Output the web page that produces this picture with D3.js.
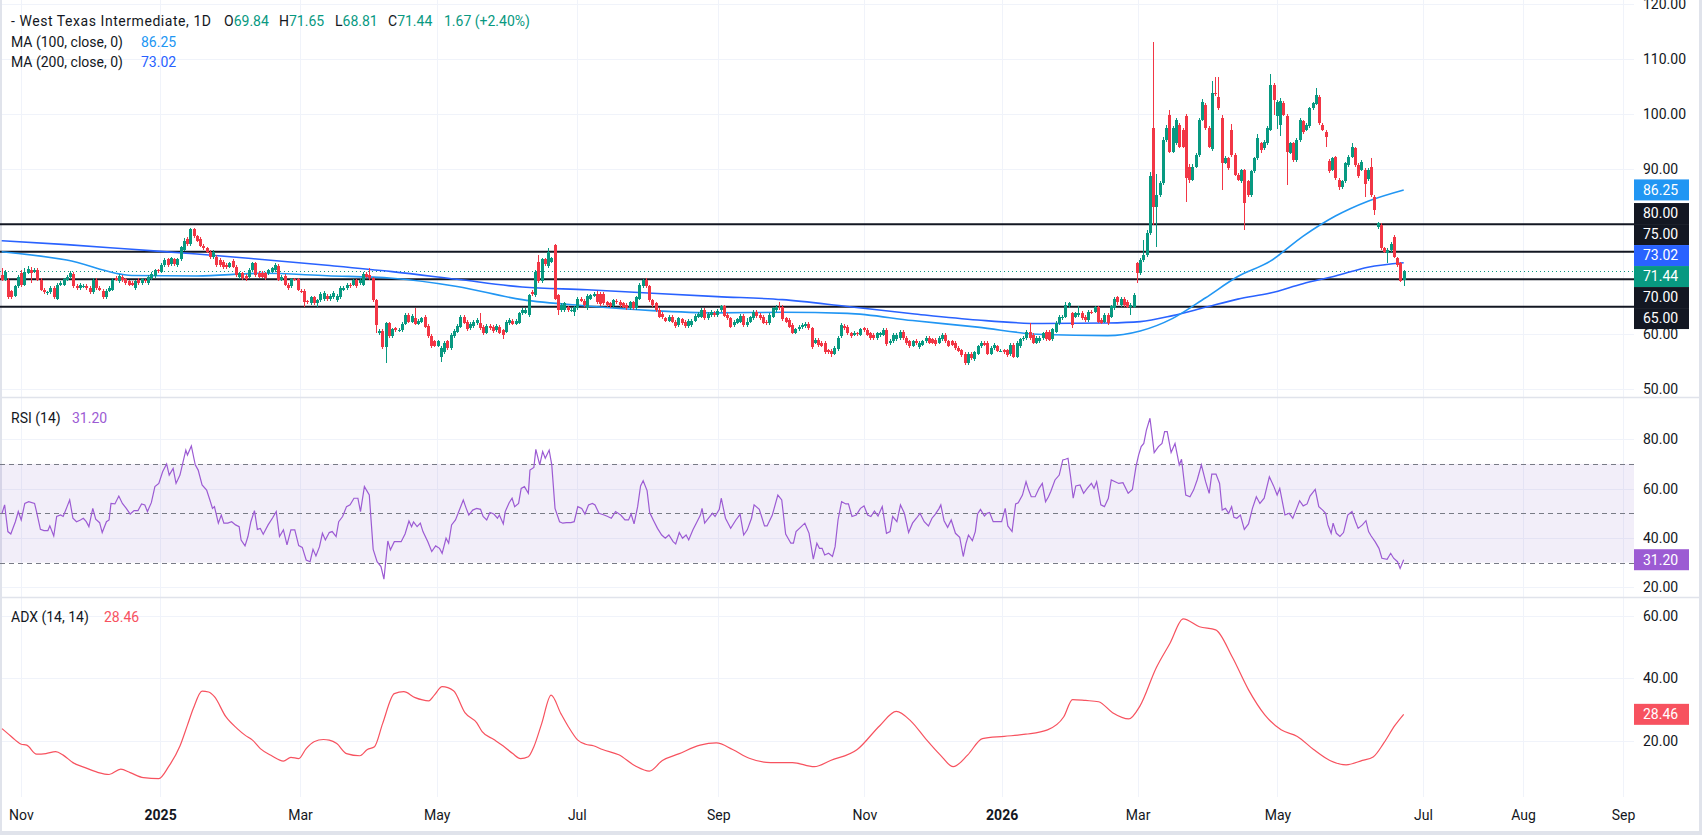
<!DOCTYPE html>
<html>
<head>
<meta charset="utf-8">
<script src="https://cdn.jsdelivr.net/npm/d3@7"></script>
<style>
  html, body { margin: 0; padding: 0; background: #fff; }
  svg { display: block; font-family: Roboto, "Noto Sans", sans-serif; }
</style>
</head>
<body>
<div id="chart"></div>
<script>
// ---- daily candles (bar index 0 = late Oct 2024, last = late Jun 2026) ----
const opens = [70.8,69.9,69.9,67.8,67.0,68.7,71.1,69.0,71.2,71.7, 71.4,71.7,69.9,68.1,67.6,67.6,68.4,66.5,69.0,69.0, 69.9,70.4,71.0,68.8,68.4,68.8,68.8,68.4,67.6,69.9, 68.5,67.9,66.7,67.9,68.1,70.2,69.6,70.5,70.0,69.6, 69.3,68.4,69.9,69.3,69.8,69.3,70.2,70.6,71.6,71.4, 72.6,73.6,72.7,73.6,72.6,73.6,75.4,77.3,76.4,79.1, 77.8,77.4,76.1,75.6,75.0,74.0,74.1,73.5,73.2,72.6, 72.3,73.4,72.3,70.4,71.1,70.6,70.5,71.7,72.9,71.2, 71.2,71.1,71.1,71.4,71.7,72.4,69.9,70.6,69.0,68.7, 70.0,70.0,67.9,67.9,66.0,65.6,66.7,65.6,66.2,66.4, 67.0,66.4,66.8,66.2,66.8,68.1,68.4,69.0,69.0,69.8, 69.3,69.0,71.0,70.8,70.2,66.2,
  60.2,60.6,57.6,62.0,59.6,61.1,60.8,60.7,61.9,63.5, 62.3,62.9,61.9,62.3,63.2,61.5,59.7,58.7,57.9,55.9, 56.7,58.7,57.5,59.6,60.5,61.4,63.2,62.3,61.1,61.5, 62.0,62.0,61.3,60.3,61.5,61.3,60.7,61.3,60.7,60.5, 62.0,62.5,61.9,62.1,63.8,63.9,63.5,67.6,67.1,73.2, 69.6,73.6,72.4,73.2,76.2,67.1,64.4,64.4,64.9,64.4, 64.1,64.7,66.5,66.1,64.7,66.5,67.0,67.4,67.3,67.4, 65.8,65.6,65.1,66.1,65.9,65.6,65.3,64.7,65.8,64.7, 66.5,68.7,69.8,68.7,66.2,65.6,64.5,63.7,62.9,62.5, 63.2,62.3,61.7,62.7,62.3,61.5,61.7,62.5,63.2,63.2, 64.4,62.9,63.5,63.9,63.5,64.4,65.1,63.5,62.9,61.7, 62.1,62.3,63.3,61.7,
  62.3,62.9,64.1,63.5,63.2,62.3,62.0,63.2,64.4,65.0, 65.0,62.9,62.6,61.7,60.3,60.9,61.3,61.5,61.9,61.1, 58.5,59.0,58.4,58.4,57.1,57.0,56.5,57.3,59.6,61.5, 61.4,60.2,59.9,60.2,59.9,61.1,60.8,60.2,59.9,59.3, 59.8,59.9,60.8,58.4,58.7,59.1,59.3,60.5,59.3,58.7, 57.9,58.8,57.6,58.1,58.7,59.3,59.1,59.0,58.5,59.1, 59.9,58.7,58.7,58.5,57.5,57.1,56.4,54.7,56.5,55.5, 56.5,57.8,58.4,58.4,56.5,57.5,57.8,57.0,57.1,57.1, 56.4,58.1,55.9,57.8,59.1,59.3,60.5,59.9,58.5,58.7, 59.3,60.5,60.5,59.1,60.5,62.0,62.9,63.2,65.1,63.8, 63.2,63.5,63.9,63.2,62.6,64.1,64.1,64.9,62.6,62.3, 63.5,63.2,64.7,66.7,
  65.3,66.4,65.9,65.0,65.0,72.9,71.1,73.5,74.4,78.4, 97.5,83.2,85.3,87.5,95.3,99.9,93.2,94.7,98.1,97.2, 99.7,90.5,88.1,90.5,92.6,99.0,101.7,97.5,93.6,103.9, 103.2,99.4,91.2,92.0,97.2,92.6,89.0,87.8,89.8,87.8, 85.3,89.6,92.0,94.7,93.8,94.7,97.2,105.3,99.7,98.0, 102.1,99.7,93.0,94.7,91.7,95.3,98.7,97.2,97.8,101.1, 101.9,103.2,98.1,96.8,91.5,89.9,92.2,88.1,86.8,87.8, 90.8,92.3,93.8,90.8,89.9,89.9,88.2,90.4,85.0,79.5, 79.9,75.6,74.7,75.3,77.7,73.8,72.9,69.84];
const highs = [72.0,71.7,70.2,68.1,69.0,70.7,71.6,72.1,72.4,72.2, 72.1,72.0,70.2,68.4,67.9,68.7,68.7,69.4,69.6,70.3, 70.8,71.5,71.3,69.1,69.3,69.1,69.1,68.7,70.2,70.2, 68.8,68.2,68.2,68.8,70.2,70.6,70.9,70.8,70.3,69.9, 69.6,69.9,70.2,70.3,70.1,70.8,71.3,71.9,71.9,72.9, 73.8,73.9,74.1,73.9,73.9,76.1,77.5,77.6,79.4,79.3, 78.1,77.7,76.4,75.9,75.3,75.3,74.4,73.8,73.5,72.9, 73.2,73.7,72.6,71.4,71.4,70.9,72.0,73.2,73.2,71.5, 71.5,71.4,71.9,72.3,72.9,72.7,70.8,70.9,69.3,70.3, 70.3,70.3,68.2,68.2,66.3,67.0,67.0,66.5,67.6,67.8, 67.3,67.3,67.8,67.3,68.7,68.7,69.3,69.3,70.1,70.1, 70.2,71.3,71.3,72.0,70.5,66.5,
  60.9,60.9,62.3,62.3,61.2,61.4,61.1,62.2,63.8,63.8, 63.6,64.7,62.8,63.2,63.5,61.8,60.0,59.0,59.0,57.8, 58.8,59.0,60.2,60.9,61.8,63.5,63.5,62.6,62.2,62.6, 62.9,63.8,61.6,61.8,61.8,61.6,61.8,61.6,61.0,62.6, 62.9,62.8,62.8,64.1,64.7,64.8,67.4,68.0,71.7,74.5, 73.9,73.9,75.6,74.1,76.5,67.4,65.6,65.9,65.2,64.7, 65.2,66.8,66.8,66.4,67.3,67.4,67.7,67.9,67.6,67.7, 66.1,65.9,66.5,66.4,66.2,65.9,65.6,66.1,66.1,67.0, 69.3,70.1,70.3,69.0,66.5,65.9,64.8,64.0,63.2,63.5, 63.5,62.6,63.2,63.0,62.6,62.8,62.8,63.6,64.0,64.7, 64.7,64.0,64.4,64.2,64.6,65.4,65.4,63.8,63.2,62.6, 63.0,63.6,63.6,62.9,
  63.4,64.4,64.4,63.8,63.5,62.6,63.8,65.0,65.3,65.9, 65.3,63.2,62.9,62.0,61.2,61.7,62.0,62.2,62.2,61.4, 59.3,59.3,58.7,58.7,57.4,57.3,57.8,59.6,62.0,61.8, 61.7,60.5,60.6,60.5,61.2,61.4,61.1,60.5,60.2,60.5, 60.5,61.1,61.1,59.1,60.2,60.2,60.8,60.8,59.6,59.0, 59.0,59.1,58.7,59.0,59.6,59.6,59.4,59.3,59.6,60.2, 60.2,59.0,59.0,58.8,57.8,57.4,56.7,56.7,56.8,57.0, 58.1,58.7,58.8,58.7,57.8,58.4,58.1,57.3,57.4,57.4, 58.4,58.4,58.7,59.4,59.6,60.8,62.0,60.2,59.6,59.6, 60.5,60.8,60.8,61.2,62.4,63.5,63.5,65.9,65.9,64.1, 64.1,65.1,64.2,63.5,64.4,64.4,65.2,65.2,62.9,63.8, 63.8,65.4,66.8,67.0,
  66.7,66.7,66.2,65.6,67.5,73.2,73.8,77.1,79.0,89.5, 113.2,89.2,87.9,95.8,98.0,100.8,97.9,99.4,98.4,97.5, 100.0,91.0,90.9,93.0,99.4,102.8,102.0,97.8,106.1,106.8, 106.7,99.8,92.4,92.3,98.3,92.9,89.3,90.1,90.1,88.1, 89.9,92.3,96.5,95.0,95.3,97.8,107.4,105.6,102.6,102.9, 102.5,100.0,95.0,95.0,95.6,99.4,99.0,98.4,101.4,102.3, 104.7,103.5,98.4,97.1,91.8,92.3,92.5,88.4,88.1,91.4, 92.6,94.8,94.1,91.1,91.7,90.2,90.2,92.0,85.3,80.5, 80.2,75.9,75.6,76.8,78.0,74.1,73.2,71.65];
const lows = [69.6,69.6,66.5,66.4,66.7,68.4,68.6,68.8,70.9,69.4, 71.1,69.6,67.8,67.3,67.2,67.3,66.4,66.3,68.7,68.7, 69.6,70.1,68.4,68.1,68.1,68.5,68.1,67.3,67.3,68.1, 67.8,66.5,66.4,67.6,67.8,69.6,69.3,69.5,69.0,68.7, 68.7,68.1,69.0,69.0,69.3,69.0,69.9,70.3,71.2,71.1, 72.3,72.3,72.4,72.5,72.3,73.3,75.1,76.1,76.1,77.5, 76.7,75.8,75.3,74.7,73.7,73.7,72.3,72.3,71.9,71.9, 72.0,72.0,70.5,70.1,69.9,69.7,70.2,71.4,70.5,70.2, 70.2,69.9,70.8,71.1,71.4,69.6,69.6,68.7,68.1,68.4, 69.6,67.8,67.5,64.9,65.5,65.3,65.3,65.0,65.9,66.1, 66.1,66.1,66.5,65.9,66.5,67.8,68.1,68.4,68.7,68.5, 69.0,68.7,70.2,69.9,65.9,60.2,
  59.9,57.3,54.7,59.3,59.3,60.5,60.5,60.4,61.6,62.0, 62.0,61.6,61.6,62.0,61.1,59.3,57.5,57.6,57.6,55.0, 56.4,57.2,57.2,59.3,60.2,61.1,61.8,60.6,60.8,61.2, 61.7,60.8,59.9,60.0,60.8,60.3,60.4,60.0,59.2,60.2, 61.7,61.6,61.6,61.8,63.5,63.7,63.2,67.0,66.8,69.3, 69.3,72.5,72.1,72.9,66.2,63.5,64.1,64.1,64.1,64.1, 63.4,64.4,65.8,65.0,64.4,66.2,66.7,65.5,65.2,65.3, 65.0,64.8,64.8,65.5,65.0,64.7,64.4,64.4,64.4,64.4, 66.2,68.4,68.4,65.9,65.0,64.1,62.9,62.8,62.2,62.2, 62.0,61.2,61.4,61.7,61.2,61.2,61.4,62.2,62.9,62.9, 62.6,62.6,63.2,63.2,63.2,64.1,63.1,62.6,61.1,61.4, 61.8,62.0,61.4,61.4,
  62.0,62.6,63.0,62.6,61.8,61.7,61.7,62.9,64.1,64.4, 62.4,62.0,61.1,60.0,60.0,60.6,61.0,61.2,60.8,57.3, 58.2,57.7,57.6,56.4,56.4,55.9,56.2,57.0,59.3,60.8, 59.9,59.3,59.6,59.7,59.6,60.4,59.6,59.0,59.0,59.0, 59.5,59.6,57.9,58.1,58.4,58.8,59.0,59.0,58.1,57.5, 57.6,58.1,57.3,57.8,58.4,58.2,58.2,57.9,58.2,58.8, 58.4,57.6,57.8,57.2,56.7,55.9,54.4,54.4,55.3,55.2, 56.2,57.5,57.8,56.2,56.2,57.2,56.7,56.7,56.5,55.9, 56.1,55.6,55.6,57.5,58.8,59.0,59.0,58.2,58.2,58.4, 59.0,58.8,58.7,58.8,60.2,61.7,62.6,62.9,64.8,61.1, 62.9,63.2,62.6,62.3,62.3,63.6,63.8,62.0,61.8,62.0, 61.7,62.9,64.4,65.3,
  65.0,65.0,64.7,63.5,64.7,69.3,70.8,73.2,74.1,78.0, 79.9,75.9,85.0,87.2,95.0,92.9,92.9,94.4,93.8,93.8, 84.1,87.5,87.8,90.2,92.3,98.7,97.2,93.8,93.3,103.4, 100.8,86.2,90.9,89.9,92.3,88.7,87.8,87.5,79.0,85.0, 85.0,89.3,91.7,93.0,93.5,94.4,96.9,99.9,97.4,96.0, 99.6,87.1,92.7,91.4,91.4,95.0,96.5,96.9,97.5,100.8, 101.6,98.1,96.9,94.1,89.3,89.6,88.1,86.2,86.5,87.5, 90.5,92.0,90.5,88.4,89.6,85.0,87.9,85.0,81.7,79.2, 75.3,74.7,72.9,75.0,73.8,72.3,69.5,68.81];
const closes = [69.9,71.4,66.8,66.8,68.7,70.4,68.9,71.4,71.8,71.1, 71.7,69.9,68.1,67.6,67.6,68.4,66.7,69.0,69.3,70.0, 70.5,71.1,68.7,68.4,69.0,68.8,68.4,67.6,69.9,68.4, 68.1,66.8,67.9,68.5,69.9,69.9,70.6,69.8,69.3,69.0, 69.0,69.6,69.3,70.0,69.6,70.5,71.0,71.6,71.5,72.6, 73.5,72.6,73.8,72.8,73.6,75.8,77.0,76.4,79.1,77.8, 77.0,76.1,75.6,75.0,74.0,75.0,72.6,72.6,72.2,72.2, 72.9,72.3,70.8,71.1,70.2,70.0,71.7,72.9,70.8,70.5, 70.5,70.2,71.6,72.0,72.6,69.9,70.5,69.0,68.4,70.0, 69.9,68.1,67.8,65.9,65.8,66.7,65.6,66.2,67.3,67.5, 66.4,67.0,67.5,67.0,68.4,68.4,69.0,68.7,69.8,68.8, 69.9,71.0,70.5,70.2,66.2,61.7,
  60.6,57.6,62.0,59.6,60.9,60.8,60.8,61.9,63.5,62.3, 63.3,61.9,62.5,62.9,61.4,59.6,57.8,57.9,58.7,57.5, 58.5,57.5,59.9,60.6,61.5,63.2,62.1,60.9,61.9,62.3, 62.6,61.1,60.2,61.5,61.1,60.6,61.5,60.3,59.9,62.3, 62.6,61.9,62.5,63.8,64.4,64.4,67.1,67.3,71.4,69.6, 73.6,72.8,75.0,73.8,66.5,64.4,65.3,65.6,64.4,64.4, 64.9,66.5,66.1,65.3,67.0,67.1,67.4,65.8,65.5,65.6, 65.3,65.1,66.2,65.8,65.3,65.0,64.7,65.8,64.7,66.7, 69.0,69.8,68.7,66.2,65.3,64.4,63.2,63.1,62.5,63.2, 62.3,61.5,62.9,62.0,61.5,62.5,62.5,63.3,63.7,64.4, 62.9,63.7,64.1,63.5,64.3,65.1,63.4,62.9,61.4,62.3, 62.7,63.3,61.7,62.3,
  63.1,64.1,63.3,62.9,62.1,62.0,63.5,64.7,65.0,64.7, 62.7,62.3,61.4,60.3,60.9,61.4,61.7,61.9,61.1,57.6, 59.0,58.0,57.9,56.7,56.7,56.5,57.5,59.3,61.7,61.1, 60.2,59.6,60.3,60.0,60.9,60.7,59.9,59.3,59.3,60.2, 60.2,60.8,58.2,58.8,59.9,59.9,60.5,59.3,58.4,57.8, 58.7,58.4,58.4,58.7,59.3,58.5,58.5,58.2,59.3,59.9, 58.7,57.9,58.1,57.5,57.0,56.2,54.7,56.4,55.6,56.7, 57.8,58.4,58.1,56.5,57.5,58.1,57.0,57.0,56.8,56.2, 58.1,55.9,58.4,59.1,59.3,60.5,59.3,58.5,59.3,59.3, 60.2,59.1,59.0,60.9,62.1,63.2,63.2,65.3,65.6,61.7, 63.8,63.9,62.9,62.6,64.1,63.9,64.9,62.3,62.1,63.5, 62.0,65.1,66.5,65.9,
  66.4,65.3,65.0,65.3,67.2,71.1,73.5,74.4,78.4,88.7, 83.2,85.3,87.5,95.3,97.5,93.2,97.5,99.0,94.1,94.1, 88.4,88.1,90.5,92.6,99.0,102.3,97.5,94.1,103.8,103.8, 101.1,91.2,92.0,90.2,92.6,89.0,88.1,89.8,83.8,85.3, 89.6,92.0,95.6,93.5,95.0,97.5,105.3,102.6,102.3,102.4, 99.9,93.2,94.7,91.7,95.3,99.0,96.8,98.1,101.1,102.0, 103.5,98.4,97.2,95.9,89.6,92.0,88.4,86.8,87.8,91.1, 92.3,94.1,90.8,88.7,91.4,87.3,89.9,85.3,82.6,80.2, 75.6,75.0,75.3,76.5,74.1,72.6,69.77,71.44];

// ---- moving averages, read at sample bars ----
const maBars   = [0,20,40,60,80,100,120,140,160,180,200,220,240,260,280,300,320,340,350,360,370,380,390,400,410,420,431];
const ma100    = [75.0,73.5,70.7,70.6,71.1,70.65,70.2,68.7,66.3,65.15,64.3,63.9,64.0,63.8,62.5,61.3,59.95,59.75,60.6,62.9,66.6,70.5,73.3,77.8,81.5,84.2,86.25];
const ma200    = [77.0,76.3,75.45,74.6,73.6,72.55,71.4,70.0,68.6,68.1,67.45,66.85,66.3,65.05,63.75,62.6,61.95,62.05,62.3,63.4,64.9,66.4,67.5,69.2,70.6,72.2,73.02];

// ---- RSI (14) ----
const rsiBars = [0.1,0.9,1.9,2.8,4.2,5.1,6.0,7.1,8.3,10.1,10.7,11.9,13.0,14.2,14.8,16.0,16.9,18.1,18.9,20.1,20.9,21.9,23.0,24.2,25.1,26.0,26.8,28.0,28.9,30.1,30.9,32.2,33.0,33.6,34.8,36.0,37.1,38.3,39.5,40.7,41.9,43.0,44.0,44.8,46.0,47.1,48.3,49.5,50.7,51.5,52.7,53.6,54.8,55.7,56.6,57.1,58.3,59.5,60.4,61.6,63.0,64.0,64.8,65.4,66.6,67.5,68.3,69.5,70.7,71.9,73.0,73.6,74.8,75.7,76.6,77.7,78.6,79.5,80.4,81.9,83.3,84.4,85.4,86.6,87.7,88.9,90.1,91.3,92.4,93.6,94.8,95.7,96.6,97.7,98.6,99.5,100.7,101.6,102.8,103.6,104.8,106.0,107.1,108.3,109.5,110.3,111.5,113.0,114.2,115.4,116.6,117.5,118.7,119.5,120.7,121.9,122.8,124.0,125.2,126.0,126.6,127.7,128.7,129.5,131.0,132.2,133.4,134.6,135.4,136.6,137.4,138.3,139.5,140.7,141.9,142.8,143.6,144.8,146.0,147.2,148.0,149.1,150.1,151.3,152.4,153.0,154.2,154.8,156.0,156.9,157.7,158.9,159.7,160.7,161.9,162.4,163.6,164.2,165.4,166.3,167.1,168.3,169.1,170.1,171.5,172.5,173.6,175.0,176.0,177.1,178.3,179.3,180.4,181.6,182.4,183.6,
  185.2,186.3,187.4,188.7,190.3,191.6,192.7,193.5,194.4,195.5,196.4,197.2,198.4,199.2,200.3,201.6,202.9,204.0,205.1,206.4,207.2,208.3,209.3,210.4,211.2,212.5,213.6,214.8,215.3,216.1,217.3,218.5,219.3,220.6,221.2,222.5,223.3,224.1,225.7,227.0,228.1,229.2,230.5,231.3,232.9,234.5,235.3,236.9,238.6,239.8,241.0,242.6,243.4,244.2,245.8,246.9,248.2,249.5,250.6,251.4,252.2,253.0,254.2,255.4,256.2,257.1,258.2,259.5,260.3,261.4,262.7,264.0,265.1,266.2,267.2,268.3,269.4,270.7,272.0,273.1,273.9,275.2,276.3,277.5,278.8,280.0,281.2,282.3,283.6,284.9,286.0,286.8,288.1,288.7,289.7,290.8,291.9,293.2,294.5,295.6,296.4,297.2,298.4,299.3,300.0,300.9,302.1,302.9,303.7,304.8,306.1,307.4,308.5,309.3,310.6,311.7,312.5,313.8,314.9,315.7,316.5,317.7,318.9,319.9,320.9,321.8,322.5,323.8,325.1,326.2,327.0,327.8,328.6,329.4,330.2,331.5,332.6,333.7,335.0,335.8,336.6,337.9,339.0,340.2,341.1,342.3,343.4,344.7,346.3,347.6,348.7,349.5,350.3,351.1,351.9,353.0,354.3,355.6,356.7,357.5,358.3,359.5,360.7,362.0,362.7,364.0,365.3,366.4,367.5,368.8,370.1,371.2,372.0,373.3,374.4,375.2,376.2,377.2,378.1,378.8,379.7,380.8,382.0,383.3,384.5,385.7,386.8,388.1,389.7,391.0,392.1,392.9,394.5,395.8,396.9,398.1,399.0,400.1,401.3,402.2,403.8,404.9,406.1,407.0,407.7,408.7,409.3,410.3,411.4,412.5,413.8,415.1,416.2,417.0,418.3,419.4,420.2,421.0,422.2,423.4,424.3,425.9,427.0,427.9,429.1,429.9,431];
const rsiVals = [50.0,53.4,42.6,41.6,46.6,50.7,47.3,54.0,54.7,54.0,50.7,43.5,43.0,43.0,44.9,40.8,48.7,49.3,48.7,52.7,55.4,48.0,46.6,47.3,48.0,46.6,44.6,52.0,47.6,46.2,42.2,46.6,47.3,54.0,53.8,57.0,54.0,52.0,49.7,51.1,51.1,53.8,53.4,50.7,54.3,60.8,62.1,66.9,70.0,65.5,68.2,62.1,65.5,70.5,75.6,73.6,77.3,69.6,67.5,61.5,59.4,55.4,52.0,52.7,46.0,49.3,46.0,46.0,46.6,45.3,44.6,39.2,36.8,40.6,46.6,51.1,43.5,43.9,41.5,45.3,48.2,50.7,40.6,43.3,37.2,43.3,43.3,36.9,36.2,31.1,30.4,35.4,32.7,36.5,41.9,39.2,42.2,42.6,40.6,46.6,48.7,52.7,53.4,56.1,56.1,50.7,60.8,57.4,35.4,30.4,28.4,23.3,38.8,35.2,38.5,38.5,38.5,41.6,46.9,44.6,46.5,44.6,46.0,42.6,38.5,34.5,36.8,35.8,33.8,39.9,37.9,45.3,47.3,51.3,55.4,52.0,49.3,51.3,52.0,51.6,48.7,47.3,50.3,49.7,48.0,49.3,45.7,50.7,54.3,56.1,52.7,54.0,60.1,60.8,58.1,67.5,68.6,75.9,69.6,75.0,72.3,75.6,69.6,52.0,46.6,46.0,46.2,46.2,46.6,52.7,52.0,49.7,53.4,54.0,53.4,50.0,
  49.3,48.7,48.0,50.7,49.3,47.3,47.3,49.7,45.7,52.7,61.1,63.2,59.2,50.3,47.3,43.9,41.2,39.9,41.2,38.5,37.6,42.2,39.9,41.2,39.2,43.3,46.2,49.3,52.0,46.0,48.0,50.0,48.7,51.6,56.1,48.0,46.0,43.9,47.3,49.6,41.2,43.3,48.0,53.4,51.6,44.9,44.9,49.3,57.4,55.4,41.6,37.9,37.9,42.6,44.6,46.0,41.9,31.4,37.9,35.8,35.8,33.1,33.8,32.5,36.5,47.3,54.7,53.8,53.8,48.7,49.3,52.0,53.0,49.3,48.7,50.9,48.9,52.7,41.9,42.6,48.7,46.6,53.4,50.0,42.2,46.0,48.0,50.0,46.6,44.9,48.0,49.3,51.8,53.4,47.0,44.3,47.3,41.9,40.3,32.5,37.6,41.2,38.9,42.6,49.7,51.6,48.9,50.0,50.3,46.6,46.6,46.6,52.0,44.9,42.6,53.8,54.3,57.4,62.8,59.4,56.7,56.7,60.1,62.1,54.7,56.7,58.8,63.5,65.5,71.6,71.9,72.3,64.8,56.1,61.1,61.5,58.1,60.1,62.1,60.1,62.8,53.4,52.7,56.1,63.5,62.8,62.1,62.4,58.1,59.7,68.9,73.6,77.0,78.3,83.7,88.5,74.6,77.0,78.3,83.1,83.1,74.6,78.3,69.6,71.9,57.4,56.7,59.4,63.5,69.6,62.8,58.1,65.9,65.9,62.1,51.3,52.0,50.0,52.7,48.4,48.0,49.3,43.5,45.7,52.0,56.7,54.0,56.1,64.8,61.1,57.4,60.1,49.3,50.0,48.0,52.0,55.1,53.0,53.8,57.0,59.7,52.7,51.3,50.0,45.3,41.9,46.0,41.9,40.6,42.2,49.3,50.7,46.6,43.9,45.3,47.0,42.6,40.8,38.5,35.8,31.8,31.4,33.8,31.8,30.4,27.7,31.2];

// ---- ADX (14, 14) ----
const adxBars = [0.1,1.9,4.2,6.0,7.7,10.7,13.6,16.6,18.9,21.9,25.4,29.5,33.0,36.6,39.5,43.6,48.3,51.3,54.8,57.1,58.9,61.6,63.6,65.4,68.9,72.4,74.8,77.1,79.5,83.0,86.6,88.9,91.3,93.6,96.0,98.9,100.7,103.0,106.0,110.1,112.4,114.6,117.1,120.7,123.6,127.1,131.3,133.0,135.4,138.9,142.4,146.0,147.7,151.3,154.2,157.1,159.5,161.9,163.6,166.0,168.9,171.9,174.2,177.1,179.5,181.9,
  184.7,189.7,194.7,199.1,203.1,208.1,214.7,219.7,224.7,229.8,236.4,243.1,249.8,254.8,263.0,270.0,275.0,279.5,284.0,288.5,292.5,297.0,301.5,308.2,314.8,321.5,326.5,329.2,333.2,337.2,341.5,346.5,349.9,354.9,359.2,363.2,368.2,373.2,378.3,383.3,388.3,393.3,398.3,403.3,408.3,413.3,418.3,421.6,424.9,428.3,431];
const adxVals = [23.9,22.3,20.2,18.9,18.6,15.7,15.9,16.5,15.4,13.0,11.5,9.9,9.2,10.9,9.8,8.2,7.9,11.7,18.3,25.0,30.3,35.9,35.6,34.1,27.7,23.9,21.8,20.2,17.5,15.2,13.5,14.7,14.3,17.5,19.7,20.4,20.2,19.1,15.9,15.2,17.2,18.1,25.5,35.1,35.7,33.8,32.8,34.6,37.3,36.0,29.0,25.8,22.9,20.4,18.3,15.9,14.3,14.9,18.1,25.5,34.6,28.7,24.5,20.2,18.9,18.4,
  17.2,15.5,12.0,10.3,13.7,15.8,18.6,19.3,17.2,14.4,13.0,13.0,11.7,13.7,17.2,24.9,29.4,26.3,20.7,15.5,11.7,15.5,20.7,21.4,22.1,23.5,27.7,33.2,32.9,32.5,29.0,27.0,31.1,43.3,51.3,59.0,56.5,55.5,46.8,36.3,28.3,23.5,21.4,17.2,13.7,12.3,13.7,14.8,19.3,24.9,28.46];

// ---- axes, levels, labels ----
const priceTicks = [50,60,70,80,90,100,110,120];
const rsiTicks = [20,40,60,80];
const adxTicks = [20,40,60];
const levels = [80,75,70,65];
const tickBars = [5.9,48.7,91.7,133.7,176.8,220.3,265.2,307.4,349.2,392.2,436.9,467.7,498.4];
const tickLabels = ["Nov","2025","Mar","May","Jul","Sep","Nov","2026","Mar","May","Jul","Aug","Sep"];
const titleText = "- West Texas Intermediate, 1D";
const changeText = "1.67 (+2.40%)";
const lastRsi = 31.20, lastAdx = 28.46;

// ---- layout ----
const W = 1702, H = 835;
const plotRight = 1634;
const paneMain = [0, 397], paneRsi = [398, 597], paneAdx = [598, 797];
const green = "#089981", red = "#F23645", dark = "#131722";
const c100 = "#2196F3", c200 = "#2962FF", cRsi = "#9C5BD3", cAdx = "#F7525F";
const gridCol = "#f0f3fa";

const svg = d3.select("#chart").append("svg")
  .attr("width", W).attr("height", H);

const n = closes.length;
const x = d3.scaleLinear().domain([0, n - 1]).range([1.7, 1403.7]);
const yP = d3.scaleLinear().domain([48.6, 120.78]).range([paneMain[1], paneMain[0]]);
const yR = d3.scaleLinear().domain([16.1, 96.7]).range([paneRsi[1], paneRsi[0]]);
const yA = d3.scaleLinear().domain([2.0, 65.7]).range([paneAdx[1], paneAdx[0]]);

// vertical grid
svg.append("g").selectAll("line").data(tickBars).enter().append("line")
  .attr("x1", d => Math.round(x(d)) + 0.5).attr("x2", d => Math.round(x(d)) + 0.5)
  .attr("y1", 0).attr("y2", paneAdx[1])
  .attr("stroke", gridCol).attr("stroke-width", 1);

// horizontal grids
function hgrid(ticks, scale) {
  svg.append("g").selectAll("line").data(ticks).enter().append("line")
    .attr("x1", 0).attr("x2", plotRight)
    .attr("y1", d => Math.round(scale(d)) + 0.5).attr("y2", d => Math.round(scale(d)) + 0.5)
    .attr("stroke", gridCol).attr("stroke-width", 1);
}
hgrid(priceTicks, yP);
hgrid(rsiTicks, yR);
hgrid(adxTicks, yA);

// pane separators and frame
[paneMain[1], paneRsi[1]].forEach(yy => {
  svg.append("line").attr("x1", 0).attr("x2", W).attr("y1", yy + 0.5).attr("y2", yy + 0.5)
    .attr("stroke", "#e0e3eb").attr("stroke-width", 1.5);
});
svg.append("rect").attr("x", 0).attr("y", 831).attr("width", W).attr("height", 4).attr("fill", "#e0e3eb");
svg.append("rect").attr("x", 1699).attr("y", 0).attr("width", 3).attr("height", H).attr("fill", "#e0e3eb");
svg.append("rect").attr("x", 0).attr("y", 0).attr("width", 2).attr("height", H).attr("fill", "#e0e3eb");

// clip for main pane
svg.append("clipPath").attr("id", "clipMain").append("rect")
  .attr("x", 0).attr("y", paneMain[0]).attr("width", plotRight).attr("height", paneMain[1] - paneMain[0]);

const main = svg.append("g").attr("clip-path", "url(#clipMain)");

// level lines
main.append("g").selectAll("line").data(levels).enter().append("line")
  .attr("x1", 0).attr("x2", plotRight)
  .attr("y1", d => yP(d)).attr("y2", d => yP(d))
  .attr("stroke", dark).attr("stroke-width", 2);

// last price dotted line
main.append("line")
  .attr("x1", 0).attr("x2", plotRight)
  .attr("y1", Math.round(yP(closes[n - 1])) + 0.5).attr("y2", Math.round(yP(closes[n - 1])) + 0.5)
  .attr("stroke", green).attr("stroke-width", 1).attr("stroke-dasharray", "1,3");

// moving averages
const maLine = vals => d3.line().x((d, i) => x(maBars[i])).y(d => yP(d)).curve(d3.curveMonotoneX)(vals);
main.append("path").attr("d", maLine(ma200)).attr("fill", "none").attr("stroke", c200).attr("stroke-width", 1.6);
main.append("path").attr("d", maLine(ma100)).attr("fill", "none").attr("stroke", c100).attr("stroke-width", 1.6);

// candles
const candles = d3.range(n).map(i => ({ i, o: opens[i], h: highs[i], l: lows[i], c: closes[i] }));
const cg = main.append("g").attr("shape-rendering", "crispEdges");
cg.selectAll("line").data(candles).enter().append("line")
  .attr("x1", d => Math.round(x(d.i)) + 0.5).attr("x2", d => Math.round(x(d.i)) + 0.5)
  .attr("y1", d => yP(Math.max(d.h, d.o, d.c))).attr("y2", d => yP(Math.min(d.l, d.o, d.c)))
  .attr("stroke", d => d.c >= d.o ? green : red).attr("stroke-width", 1);
cg.selectAll("rect").data(candles).enter().append("rect")
  .attr("x", d => Math.round(x(d.i)) - 0.75).attr("width", 2.6)
  .attr("y", d => yP(Math.max(d.o, d.c)))
  .attr("height", d => Math.max(1, Math.abs(yP(d.o) - yP(d.c))))
  .attr("fill", d => d.c >= d.o ? green : red);

// RSI pane
svg.append("rect").attr("x", 0).attr("width", plotRight)
  .attr("y", yR(70)).attr("height", yR(30) - yR(70))
  .attr("fill", "rgba(126,87,194,0.1)");
svg.append("g").selectAll("line").data([70, 50, 30]).enter().append("line")
  .attr("x1", 0).attr("x2", plotRight)
  .attr("y1", d => Math.round(yR(d)) + 0.5).attr("y2", d => Math.round(yR(d)) + 0.5)
  .attr("stroke", "#787b86").attr("stroke-width", 1).attr("stroke-dasharray", "5,4");
svg.append("path")
  .attr("d", d3.line().x((d, i) => x(rsiBars[i])).y(d => yR(d))(rsiVals))
  .attr("fill", "none").attr("stroke", cRsi).attr("stroke-width", 1.2);

// ADX pane
svg.append("path")
  .attr("d", d3.line().x((d, i) => x(adxBars[i])).y(d => yA(d)).curve(d3.curveMonotoneX)(adxVals))
  .attr("fill", "none").attr("stroke", cAdx).attr("stroke-width", 1.2);

// right-side value boxes (stacked so they do not overlap)
const boxH = 21;
function stackBoxes(items) {
  items.sort((a, b) => a.y - b.y);
  let groups = items.map(d => ({ items: [d], y0: d.y - boxH / 2 }));
  let changed = true;
  while (changed) {
    changed = false;
    for (let k = 0; k < groups.length - 1; k++) {
      const g = groups[k], nx = groups[k + 1];
      if (g.y0 + g.items.length * boxH > nx.y0) {
        const its = g.items.concat(nx.items);
        const m = d3.mean(its, d => d.y);
        groups.splice(k, 2, { items: its, y0: m - its.length * boxH / 2 });
        changed = true;
        break;
      }
    }
  }
  groups.forEach(g => g.items.forEach((d, j) => { d.ly = g.y0 + j * boxH + boxH / 2; }));
  return items;
}
const mainBoxes = stackBoxes([
  { v: ma100[ma100.length - 1], col: c100 },
  { v: ma200[ma200.length - 1], col: c200 },
  { v: closes[n - 1], col: green }
].concat(levels.map(v => ({ v, col: dark }))).map(d => ({ ...d, y: yP(d.v) })));
const allBoxes = mainBoxes.concat([
  { v: lastRsi, col: cRsi, y: yR(lastRsi), ly: yR(lastRsi) },
  { v: lastAdx, col: cAdx, y: yA(lastAdx), ly: yA(lastAdx) }
]);

// y axes
function yAxis(scale, ticks) {
  const g = svg.append("g").attr("transform", `translate(${plotRight},0)`)
    .call(d3.axisRight(scale).tickValues(ticks).tickFormat(d3.format(".2f")).tickSize(0).tickPadding(9));
  g.attr("font-family", null).attr("font-size", null);
  g.select(".domain").remove();
  g.selectAll("text").attr("font-size", 14).attr("fill", dark)
    .style("display", d => allBoxes.some(b => Math.abs(b.ly - scale(d)) < 15) ? "none" : null);
}
yAxis(yP, priceTicks);
yAxis(yR, rsiTicks);
yAxis(yA, adxTicks);

const bg = svg.append("g");
bg.selectAll("rect").data(allBoxes).enter().append("rect")
  .attr("x", plotRight).attr("width", 55)
  .attr("y", d => d.ly - boxH / 2).attr("height", boxH)
  .attr("fill", d => d.col);
bg.selectAll("text").data(allBoxes).enter().append("text")
  .attr("x", plotRight + 9).attr("y", d => d.ly).attr("dy", "0.35em")
  .attr("font-size", 14).attr("fill", "#fff")
  .text(d => d3.format(".2f")(d.v));

// x axis
const xg = svg.append("g").attr("transform", `translate(0,${paneAdx[1]})`)
  .call(d3.axisBottom(x).tickValues(tickBars).tickFormat((d, i) => tickLabels[i]).tickSize(0).tickPadding(13));
xg.attr("font-family", null).attr("font-size", null);
xg.select(".domain").remove();
xg.selectAll("text").attr("font-size", 14).attr("fill", dark)
  .attr("font-weight", (d, i) => /^\d{4}$/.test(tickLabels[i]) ? "bold" : null);

// legends
const fmt = d3.format(".2f");
svg.append("text").attr("x", 11).attr("y", 25.5).attr("font-size", 14).attr("fill", dark)
  .attr("textLength", 200).attr("lengthAdjust", "spacing").text(titleText);
const t1 = svg.append("text").attr("y", 25.5).attr("font-size", 14).attr("fill", dark);
[["O", opens[n - 1], 224], ["H", highs[n - 1], 279], ["L", lows[n - 1], 335], ["C", closes[n - 1], 388]].forEach(p => {
  t1.append("tspan").attr("x", p[2]).attr("fill", dark).text(p[0]);
  t1.append("tspan").attr("fill", green).text(fmt(p[1]));
});
t1.append("tspan").attr("x", 444).attr("fill", green).text(changeText);

function legend(y, label, value, col, vx) {
  const t = svg.append("text").attr("x", 11).attr("y", y).attr("font-size", 14).attr("fill", dark);
  t.append("tspan").text(label);
  t.append("tspan").attr("x", vx).attr("fill", col).text(fmt(value));
}
legend(46.5, "MA (100, close, 0)", ma100[ma100.length - 1], c100, 141);
legend(67, "MA (200, close, 0)", ma200[ma200.length - 1], c200, 141);
legend(423, "RSI (14)", lastRsi, cRsi, 72);
legend(621.5, "ADX (14, 14)", lastAdx, cAdx, 104);
</script>
</body>
</html>
